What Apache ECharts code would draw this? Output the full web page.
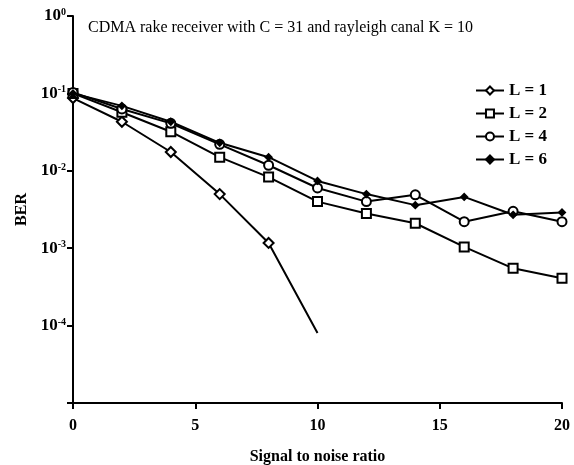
<!DOCTYPE html>
<html>
<head>
<meta charset="utf-8">
<script src="https://cdn.jsdelivr.net/npm/echarts@6/dist/echarts.min.js"></script>
<style>html,body{margin:0;padding:0;background:#fff}#c{width:574px;height:465px}</style>
</head>
<body>
<div id="c"></div>
<script>
const snr = [0, 2, 4, 6, 8, 10, 12, 14, 16, 18, 20];
const berL1 = [0.087, 0.043, 0.0175, 0.005, 0.00117, 0.00008];
const berL2 = [0.1, 0.057, 0.032, 0.015, 0.0083, 0.004, 0.0028, 0.0021, 0.00104, 0.00055, 0.00041];
const berL4 = [0.103, 0.063, 0.041, 0.022, 0.0118, 0.006, 0.004, 0.0049, 0.0022, 0.003, 0.0022];
const berL6 = [0.1, 0.069, 0.043, 0.023, 0.015, 0.0074, 0.005, 0.0036, 0.0046, 0.0027, 0.0029];
const seriesNames = ['L = 1', 'L = 2', 'L = 4', 'L = 6'];
const xTicks = [0, 5, 10, 15, 20];
const titleText = 'CDMA rake receiver with C = 31 and rayleigh canal K = 10';

const serif = '"Liberation Serif", "DejaVu Serif", serif';
function pts(arr) { return arr.map((v, i) => [snr[i], v]); }
const l1 = pts(berL1).map((p, i, a) => i === a.length - 1 ? { value: p, symbol: 'none' } : p);

function mk(name, data, symbol, size, filled) {
  return {
    name, type: 'line', data, symbol, symbolSize: size, showSymbol: true,
    lineStyle: { color: '#000', width: 2 },
    itemStyle: { color: filled ? '#000' : '#fff', borderColor: '#000', borderWidth: 2 },
    z: 3
  };
}

const chart = echarts.init(document.getElementById('c'));
chart.setOption({
  animation: false,
  backgroundColor: '#fff',
  title: {
    text: titleText, left: 83, top: 15,
    textStyle: { fontFamily: serif, fontSize: 16, fontWeight: 'normal', color: '#000' }
  },
  legend: {
    orient: 'vertical', right: 22, top: 77, itemGap: 6, itemWidth: 28, itemHeight: 10,
    data: seriesNames,
    textStyle: { fontFamily: serif, fontSize: 17, fontWeight: 'bold', color: '#000' }
  },
  grid: { left: 73, right: 12, top: 16, bottom: 62, containLabel: false, outerBoundsMode: 'none' },
  xAxis: {
    type: 'value', min: 0, max: 20, interval: 5,
    name: 'Signal to noise ratio', nameLocation: 'middle', nameGap: 46,
    nameTextStyle: { fontFamily: serif, fontSize: 16, fontWeight: 'bold', color: '#000' },
    axisLine: { lineStyle: { color: '#000', width: 2 } },
    axisTick: { show: true, length: 6, lineStyle: { color: '#000', width: 2 } },
    axisLabel: { fontFamily: serif, fontSize: 16, fontWeight: 'bold', color: '#000', margin: 15,
      formatter: v => xTicks.includes(v) ? String(v) : '' },
    splitLine: { show: false }
  },
  yAxis: {
    type: 'log', logBase: 10, min: 1e-5, max: 1,
    name: 'BER', nameLocation: 'middle', nameGap: 43, nameRotate: 90,
    nameTextStyle: { fontFamily: serif, fontSize: 16, fontWeight: 'bold', color: '#000' },
    axisLine: { show: true, lineStyle: { color: '#000', width: 2 } },
    axisTick: { show: true, length: 6, lineStyle: { color: '#000', width: 2 } },
    axisLabel: {
      margin: 7,
      formatter: v => {
        const e = Math.round(Math.log10(v));
        if (e <= -5) return '';
        return '{b|10}{s|' + e + '}';
      },
      rich: {
        b: { fontFamily: serif, fontSize: 17, fontWeight: 'bold', color: '#000', lineHeight: 17 },
        s: { fontFamily: serif, fontSize: 10, fontWeight: 'bold', color: '#000', verticalAlign: 'top', lineHeight: 10 }
      }
    },
    splitLine: { show: false }
  },
  series: [
    mk(seriesNames[0], l1, 'diamond', 10, false),
    mk(seriesNames[1], pts(berL2), 'rect', 9, false),
    mk(seriesNames[2], pts(berL4), 'circle', 9, false),
    mk(seriesNames[3], pts(berL6), 'diamond', 6, true)
  ]
});
</script>
</body>
</html>
